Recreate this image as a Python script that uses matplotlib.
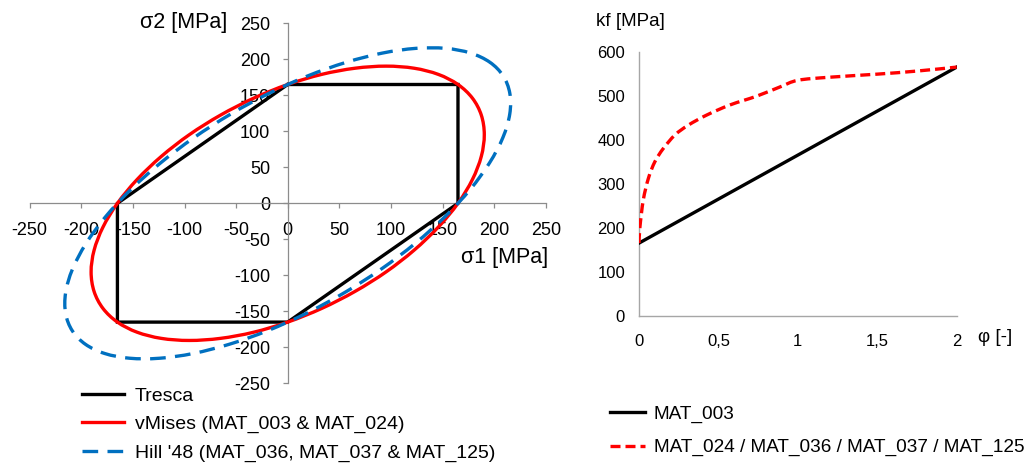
import matplotlib
matplotlib.use('Agg')
import matplotlib.pyplot as plt
from matplotlib.path import Path
from matplotlib.patches import PathPatch
from matplotlib.lines import Line2D

plt.rcParams['font.family'] = ['Liberation Sans', 'DejaVu Sans']
plt.rcParams['axes.unicode_minus'] = False

# Fließortkurven (sigma1 / sigma2 in MPa)
tresca_s1 = [0, 165, 165, 0, -165, -165, 0]
tresca_s2 = [165, 165, 0, -165, -165, 0, 165]

vmises_s1 = [165, 146.0, 122.5, 95.3, 65.2, 33.1, 0, -33.1, -65.2, -95.3,
             -122.4, -145.9, -165, -179.0, -187.6, -190.5, -187.6, -179.0, -165,
             -146.0, -122.5, -95.3, -65.2, -33.1, 0, 33.1, 65.2, 95.3,
             122.4, 145.9, 165, 179.0, 187.6, 190.5, 187.6, 179.0, 165]
vmises_s2 = [165, 179.0, 187.6, 190.5, 187.6, 179.1, 165, 145.9, 122.4, 95.3,
             65.2, 33.1, 0, -33.1, -65.2, -95.3, -122.5, -146.0, -165,
             -179.0, -187.6, -190.5, -187.6, -179.1, -165, -145.9, -122.4, -95.3,
             -65.2, -33.1, 0, 33.1, 65.2, 95.3, 122.5, 146.0, 165]

hill_s1 = [195.9, 177.1, 153.0, 124.2, 91.6, 56.2, 19.2, -18.5, -55.6, -91.0,
           -123.6, -152.5, -176.8, -195.6, -208.6, -215.2, -215.2, -208.7, -195.9,
           -177.1, -153.0, -124.2, -91.6, -56.2, -19.2, 18.5, 55.6, 91.0,
           123.6, 152.5, 176.8, 195.6, 208.6, 215.2, 215.2, 208.7, 195.9]
hill_s2 = [195.9, 208.7, 215.2, 215.2, 208.6, 195.6, 176.8, 152.5, 123.6, 91.0,
           55.6, 18.5, -19.2, -56.2, -91.6, -124.2, -153.0, -177.1, -195.9,
           -208.7, -215.2, -215.2, -208.6, -195.6, -176.8, -152.5, -123.6, -91.0,
           -55.6, -18.5, 19.2, 56.2, 91.6, 124.2, 153.0, 177.1, 195.9]

# Fließkurven kf(phi)
phi_003 = [0, 2]
kf_003 = [165, 565]
phi_024 = [0, 0.006, 0.027, 0.059, 0.10, 0.153, 0.227, 0.31, 0.426, 0.573,
           0.741, 0.888, 1.0, 1.2, 1.5, 1.75, 2.0]
kf_024 = [165, 202, 263, 312, 350, 380, 411, 433, 456, 479,
          499, 520, 535, 542, 549, 556, 565]

phi_ticks = [0, 0.5, 1, 1.5, 2]
phi_labels = ['0', '0,5', '1', '1,5', '2']
sig_ticks = list(range(-250, 251, 50))

W, H = 1029, 466


def box(x0, y0, x1, y1):
    return [x0 / W, 1 - y1 / H, (x1 - x0) / W, (y1 - y0) / H]


def smooth_path(xs, ys, closed=False):
    # geglättete Linie wie in Excel (Bezier durch die Punkte)
    pts = list(zip(xs, ys))
    if closed:
        pts = pts[:-1]
    m = len(pts)
    verts = [pts[0]]
    codes = [Path.MOVETO]
    nseg = m if closed else m - 1
    for i in range(nseg):
        p1 = pts[i]
        p2 = pts[(i + 1) % m]
        p0 = pts[(i - 1) % m] if (closed or i > 0) else p1
        p3 = pts[(i + 2) % m] if (closed or i + 2 < m) else p2
        c1 = (p1[0] + (p2[0] - p0[0]) / 6, p1[1] + (p2[1] - p0[1]) / 6)
        c2 = (p2[0] - (p3[0] - p1[0]) / 6, p2[1] - (p3[1] - p1[1]) / 6)
        verts += [c1, c2, p2]
        codes += [Path.CURVE4] * 3
    return Path(verts, codes)


fig = plt.figure(figsize=(W / 100, H / 100), dpi=100)

# linkes Diagramm: Fließorte
ax1 = fig.add_axes(box(29.7, 23.3, 545.7, 383.3))
ax1.plot(tresca_s1, tresca_s2, color='black', lw=2.4, zorder=3,
         solid_joinstyle='miter')
ax1.add_patch(PathPatch(smooth_path(vmises_s1, vmises_s2, closed=True),
                        fill=False, edgecolor='#FF0000', lw=2.4, zorder=3))
ax1.add_patch(PathPatch(smooth_path(hill_s1, hill_s2, closed=True),
                        fill=False, edgecolor='#0070C0', lw=2.4, zorder=3,
                        linestyle=(0, (4.7, 2.8))))
ax1.set_xlim(-250, 250)
ax1.set_ylim(-250, 250)
ax1.set_xticks(sig_ticks)
ax1.set_yticks(sig_ticks)
for s in ['top', 'right']:
    ax1.spines[s].set_visible(False)
for s in ['left', 'bottom']:
    ax1.spines[s].set_position(('data', 0))
    ax1.spines[s].set_color('#8C8C8C')
    ax1.spines[s].set_linewidth(0.9)
ax1.tick_params(direction='out', length=3.6, width=0.9, color='#8C8C8C',
                labelsize=13)
ax1.tick_params(axis='x', pad=10)
ax1.tick_params(axis='y', pad=9)
ax1.patch.set_visible(False)

fig.text(227 / W, 1 - 22.7 / H, 'σ2 [MPa]', ha='right', va='center', fontsize=15.5)
fig.text(548 / W, 1 - 258 / H, 'σ1 [MPa]', ha='right', va='center', fontsize=15.5)

h1 = Line2D([], [], color='black', lw=2.4)
h2 = Line2D([], [], color='#FF0000', lw=2.4)
h3 = Line2D([], [], color='#0070C0', lw=2.4, dashes=(4.7, 2.8))
fig.legend([h1, h2, h3],
           ['Tresca', 'vMises (MAT_003 & MAT_024)',
            "Hill '48 (MAT_036, MAT_037 & MAT_125)"],
           loc='upper left', bbox_to_anchor=(82 / W, 1 - 387 / H),
           frameon=False, fontsize=14, borderpad=0, borderaxespad=0,
           handlelength=2.16, handletextpad=0.57, labelspacing=0.56)

# rechtes Diagramm: Fließkurven
ax2 = fig.add_axes(box(639, 51.7, 956.7, 315.7))
ax2.plot(phi_003, kf_003, color='black', lw=2.4, zorder=3)
ax2.add_patch(PathPatch(smooth_path(phi_024, kf_024), fill=False,
                        edgecolor='#FF0000', lw=2.4, zorder=3,
                        linestyle=(0, (3.0, 1.5))))
ax2.set_xlim(0, 2)
ax2.set_ylim(0, 600)
ax2.set_xticks(phi_ticks)
ax2.set_xticklabels(phi_labels)
ax2.set_yticks(range(0, 601, 100))
for s in ['top', 'right']:
    ax2.spines[s].set_visible(False)
for s in ['left', 'bottom']:
    ax2.spines[s].set_color('#A6A6A6')
    ax2.spines[s].set_linewidth(1.0)
ax2.tick_params(length=0, labelsize=12)
ax2.tick_params(axis='x', pad=13.5)
ax2.tick_params(axis='y', pad=10)

fig.text(596 / W, 1 - 21.7 / H, 'kf [MPa]', ha='left', va='center', fontsize=13.5)
fig.text(978 / W, 1 - 337 / H, 'φ [-]', ha='left', va='center', fontsize=13.5)

g1 = Line2D([], [], color='black', lw=2.4)
g2 = Line2D([], [], color='#FF0000', lw=2.4, dashes=(3.0, 1.5))
fig.legend([g1, g2], ['MAT_003', 'MAT_024 / MAT_036 / MAT_037 / MAT_125'],
           loc='upper left', bbox_to_anchor=(610 / W, 1 - 405 / H),
           frameon=False, fontsize=13.7, borderpad=0, borderaxespad=0,
           handlelength=1.85, handletextpad=0.44, labelspacing=0.86)

fig.savefig('out.png', dpi=100)
